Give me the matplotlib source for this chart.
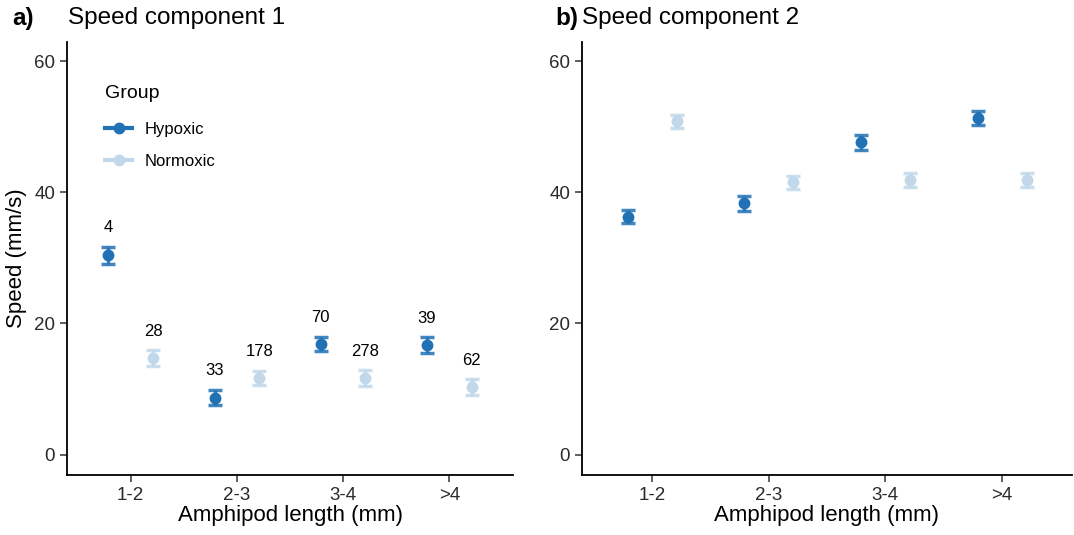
import matplotlib.pyplot as plt
import numpy as np

plt.rcParams['font.family'] = ['Liberation Sans', 'DejaVu Sans']

categories = ["1-2", "2-3", "3-4", ">4"]
groups = ["Hypoxic", "Normoxic"]
colors = ["#2171b5", "#c0d8ea"]

# speed component 1
c1_hyp = [30.4, 8.7, 16.9, 16.7]
c1_hyp_se = [1.3, 1.2, 1.1, 1.2]
c1_nor = [14.7, 11.7, 11.7, 10.3]
c1_nor_se = [1.2, 1.1, 1.2, 1.2]
c1_n_hyp = ["4", "33", "70", "39"]
c1_n_nor = ["28", "178", "278", "62"]

# speed component 2
c2_hyp = [36.3, 38.3, 47.6, 51.3]
c2_hyp_se = [1.0, 1.1, 1.1, 1.1]
c2_nor = [50.8, 41.5, 41.9, 41.9]
c2_nor_se = [1.0, 1.0, 1.1, 1.1]

fig = plt.figure(figsize=(10.74, 5.35), dpi=100)
ax1 = fig.add_axes([67/1074, 60/535, 446/1074, 433/535])
ax2 = fig.add_axes([582/1074, 60/535, 490/1074, 433/535])

x = np.arange(len(categories))
dodge = 0.21

def panel(ax, hyp, hyp_se, nor, nor_se):
    for vals, se, col, off, lab in [(hyp, hyp_se, colors[0], -dodge, groups[0]),
                                     (nor, nor_se, colors[1], dodge, groups[1])]:
        ax.errorbar(x + off, vals, yerr=se, fmt='none', ecolor=col, alpha=0.85,
                    elinewidth=2.5, capsize=5, capthick=2.5, zorder=2)
        ax.plot(x + off, vals, 'o', color=col, ms=7.5, zorder=3, label=lab)
    ax.set_xlim(-0.6, 3.6)
    ax.set_ylim(-3.1, 62.9)
    ax.set_yticks([0, 20, 40, 60])
    ax.set_xticks(x)
    ax.set_xticklabels(categories)
    for s in ['top', 'right']:
        ax.spines[s].set_visible(False)
    for s in ['left', 'bottom']:
        ax.spines[s].set_linewidth(1.3)
    ax.tick_params(direction='out', length=5, width=1.1, labelsize=13.5,
                   labelcolor='#2a2a2a', color='#333333')
    ax.set_xlabel("Amphipod length (mm)", fontsize=16, labelpad=1)

panel(ax1, c1_hyp, c1_hyp_se, c1_nor, c1_nor_se)
panel(ax2, c2_hyp, c2_hyp_se, c2_nor, c2_nor_se)

ax1.set_ylabel("Speed (mm/s)", fontsize=16, labelpad=5)

# sample sizes above error bars
for i in range(len(categories)):
    ax1.text(x[i] - dodge, c1_hyp[i] + c1_hyp_se[i] + 2.9, c1_n_hyp[i],
             ha='center', va='center', fontsize=12)
    ax1.text(x[i] + dodge, c1_nor[i] + c1_nor_se[i] + 2.9, c1_n_nor[i],
             ha='center', va='center', fontsize=12)

leg = ax1.legend(title="Group", loc='upper left', bbox_to_anchor=(0.052, 0.935),
                 frameon=False, fontsize=12, title_fontsize=14,
                 handlelength=1.6, labelspacing=1.05, handletextpad=0.75,
                 alignment='left')
leg._legend_box.sep = 14
for h, c in zip(leg.legend_handles, colors):
    h.set_linestyle('-')
    h.set_linewidth(3)
    h.set_color(c)

fig.text(12/1074, 1 - 18/535, "a)", fontsize=17.5, fontweight='bold', va='center')
fig.text(68/1074, 1 - 18/535, "Speed component 1", fontsize=17.5, va='center')
fig.text(555/1074, 1 - 18/535, "b)", fontsize=17.5, fontweight='bold', va='center')
fig.text(582/1074, 1 - 18/535, "Speed component 2", fontsize=17.5, va='center')

fig.savefig("out.png", dpi=100)
